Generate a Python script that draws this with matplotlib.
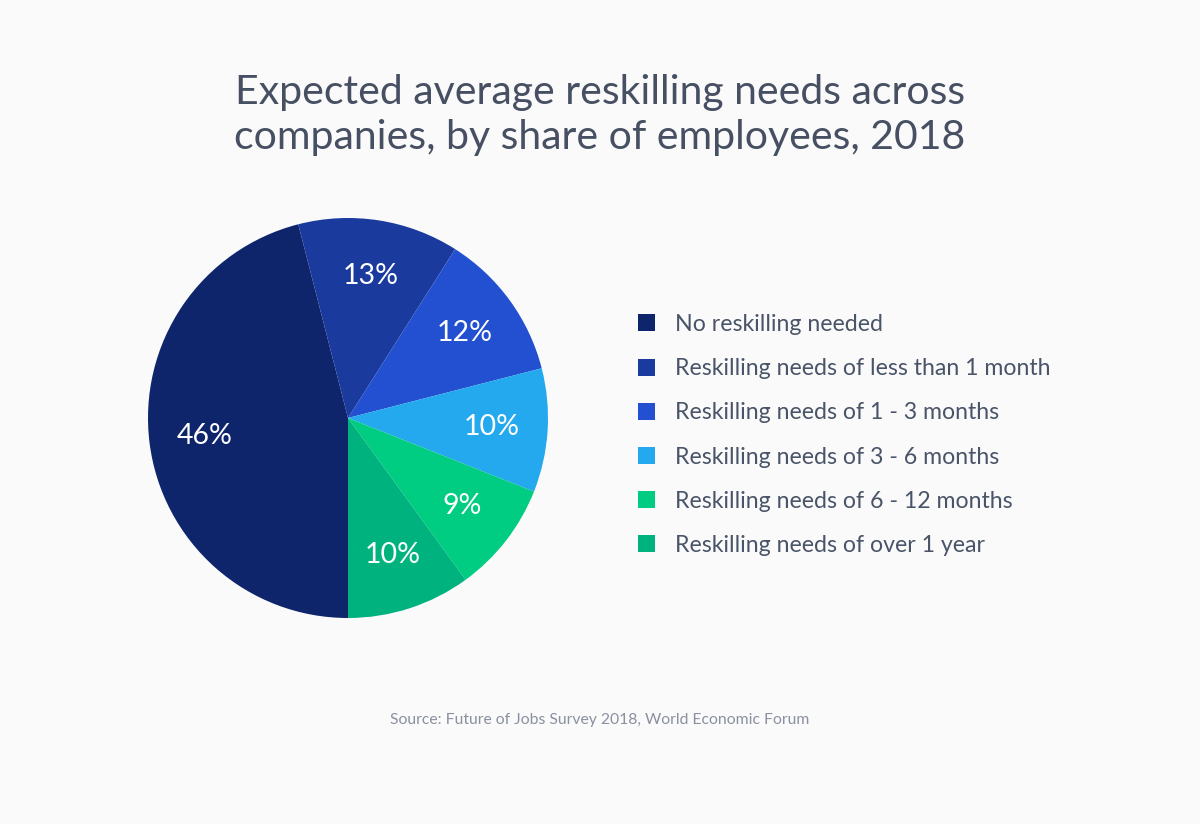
import matplotlib.pyplot as plt
from matplotlib.patches import Patch

plt.rcParams["font.family"] = ["Lato", "DejaVu Sans"]

categories = [
    "No reskilling needed",
    "Reskilling needs of less than 1 month",
    "Reskilling needs of 1 - 3 months",
    "Reskilling needs of 3 - 6 months",
    "Reskilling needs of 6 - 12 months",
    "Reskilling needs of over 1 year",
]
shares = [46, 13, 12, 10, 9, 10]
colors = ["#0e246b", "#1a3a9e", "#2250d0", "#24a9ef", "#00cc82", "#00b27e"]

bg = "#fafafa"
fig = plt.figure(figsize=(12, 8.24), dpi=100, facecolor=bg)

ax = fig.add_axes([148 / 1200, (824 - 618) / 824, 400 / 1200, 400 / 824])
ax.set_facecolor(bg)
wedges, texts, autotexts = ax.pie(
    shares,
    colors=colors,
    startangle=-90,
    counterclock=False,
    autopct="%d%%",
    pctdistance=0.72,
    textprops={"color": "white", "fontsize": 20.5},
    wedgeprops={"linewidth": 0},
)
ax.set_xlim(-1, 1)
ax.set_ylim(-1, 1)
ax.set_aspect("equal")
ax.axis("off")

fig.text(0.5, 1 - 115 / 824,
         "Expected average reskilling needs across\ncompanies, by share of employees, 2018",
         ha="center", va="center", fontsize=29.5, color="#474f63", linespacing=1.28)

handles = [Patch(facecolor=c, edgecolor="none") for c in colors]
fig.legend(handles, categories, loc="upper left",
           bbox_to_anchor=(638 / 1200, (824 - 314) / 824),
           frameon=False, fontsize=16.7, labelcolor="#4a5468",
           handlelength=0.75, handleheight=0.75, handletextpad=0.85,
           labelspacing=1.0, borderaxespad=0, borderpad=0)

fig.text(0.5, 1 - 720 / 824, "Source: Future of Jobs Survey 2018, World Economic Forum",
         ha="center", va="center", fontsize=11.3, color="#8a90a0")

fig.savefig("out.png", dpi=100, facecolor=bg)
